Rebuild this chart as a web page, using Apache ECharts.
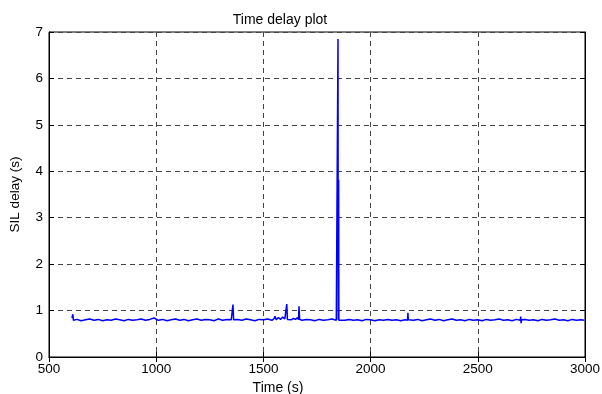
<!DOCTYPE html>
<html>
<head>
<meta charset="utf-8">
<script src="https://cdn.jsdelivr.net/npm/echarts@6/dist/echarts.min.js"></script>
<style>
html, body { margin: 0; padding: 0; background: #fff; }
#main { width: 602px; height: 394px; }
</style>
</head>
<body>
<div id="main"></div>
<script>
// time (s) and SIL delay (s)
var times = [607, 611, 614, 630, 650, 670, 690, 710, 730, 750, 770, 790, 810, 830, 850, 870, 890, 910, 930, 950,
  970, 990, 1010, 1030, 1050, 1070, 1090, 1110, 1130, 1150, 1170, 1190, 1210, 1230, 1250, 1270, 1290, 1310, 1330, 1350,
  1356, 1358, 1361, 1380, 1400, 1420, 1440, 1460, 1480, 1500, 1520, 1540, 1550, 1554, 1560, 1570, 1580, 1590, 1600, 1606,
  1609, 1612, 1620, 1630, 1640, 1650, 1660, 1664, 1666, 1669, 1680, 1700, 1720, 1740, 1760, 1780, 1800, 1820, 1840, 1846,
  1848, 1849, 1850, 1851, 1852, 1860, 1880, 1900, 1920, 1940, 1960, 1980, 2000, 2020, 2040, 2060, 2080, 2100, 2120, 2140,
  2160, 2172, 2174, 2176, 2200, 2220, 2240, 2260, 2280, 2300, 2320, 2340, 2360, 2380, 2400, 2420, 2440, 2460, 2480, 2500,
  2520, 2540, 2560, 2580, 2600, 2620, 2640, 2660, 2680, 2698, 2700, 2702, 2704, 2720, 2740, 2760, 2780, 2800, 2820, 2840,
  2860, 2880, 2900, 2920, 2940, 2960, 2980, 2998];
var delays = [0.84, 0.92, 0.79, 0.81, 0.78, 0.80, 0.82, 0.79, 0.81, 0.78, 0.80, 0.79, 0.82, 0.80, 0.78, 0.81, 0.79, 0.80, 0.82, 0.79,
  0.81, 0.84, 0.79, 0.81, 0.78, 0.80, 0.82, 0.79, 0.81, 0.78, 0.80, 0.82, 0.79, 0.81, 0.80, 0.78, 0.82, 0.79, 0.81, 0.80,
  0.79, 1.13, 0.80, 0.81, 0.79, 0.82, 0.80, 0.78, 0.81, 0.80, 0.82, 0.79, 0.83, 0.88, 0.80, 0.85, 0.81, 0.86, 0.82, 0.80,
  1.14, 0.81, 0.84, 0.80, 0.83, 0.81, 0.85, 0.80, 1.09, 0.81, 0.79, 0.81, 0.80, 0.78, 0.81, 0.79, 0.80, 0.82, 0.79, 0.80,
  6.85, 0.80, 0.80, 3.82, 0.79, 0.80, 0.79, 0.81, 0.79, 0.80, 0.78, 0.81, 0.80, 0.78, 0.80, 0.79, 0.81, 0.79, 0.80, 0.78,
  0.80, 0.79, 0.95, 0.80, 0.79, 0.81, 0.78, 0.80, 0.82, 0.79, 0.81, 0.78, 0.80, 0.82, 0.79, 0.80, 0.78, 0.81, 0.79, 0.80,
  0.78, 0.81, 0.79, 0.80, 0.82, 0.79, 0.80, 0.78, 0.81, 0.79, 0.87, 0.73, 0.80, 0.81, 0.79, 0.80, 0.78, 0.81, 0.79, 0.80,
  0.82, 0.79, 0.80, 0.78, 0.81, 0.79, 0.80, 0.79];

var xTicks = [500, 3000, 500];  // min, max, step
var yTicks = [0, 7, 1];

var font = 'Liberation Sans, Arial, sans-serif';
var points = [];
for (var i = 0; i < times.length; i++) {
  points.push([times[i], delays[i]]);
}

var myChart = echarts.init(document.getElementById('main'));
var option = {
  animation: false,
  title: [
    {
      text: 'Time delay plot',
      left: 275, top: 8, textAlign: 'center',
      textStyle: { fontFamily: font, fontSize: 14, fontWeight: 'normal', color: '#000' }
    },
    {
      text: 'Time (s)',
      left: 273, top: 376, textAlign: 'center',
      textStyle: { fontFamily: font, fontSize: 14, fontWeight: 'normal', color: '#000' }
    }
  ],
  grid: {
    left: 49, right: 17, top: 32, bottom: 37,
    outerBoundsMode: 'none',
    show: true, borderColor: '#000', borderWidth: 1
  },
  xAxis: [
    {
      type: 'value',
      min: xTicks[0], max: xTicks[1], interval: xTicks[2],
      axisLine: { lineStyle: { color: '#000', width: 1 } },
      axisTick: { inside: true, length: 5, lineStyle: { color: '#000' } },
      axisLabel: {
        fontFamily: font, fontSize: 13.5, color: '#000', margin: 5,
        formatter: function (v) { return String(v); }
      },
      splitLine: { show: true, lineStyle: { color: '#444', type: [5, 4], width: 1 } }
    },
    {
      type: 'value', position: 'top',
      min: xTicks[0], max: xTicks[1], interval: xTicks[2],
      axisLine: { lineStyle: { color: '#000' } },
      axisTick: { inside: true, length: 5, lineStyle: { color: '#000' } },
      axisLabel: { show: false },
      splitLine: { show: false }
    }
  ],
  yAxis: [
    {
      type: 'value',
      min: yTicks[0], max: yTicks[1], interval: yTicks[2],
      name: 'SIL delay (s)', nameLocation: 'middle', nameGap: 27,
      nameTextStyle: { fontFamily: font, fontSize: 13.5, color: '#000' },
      axisLine: { show: true, lineStyle: { color: '#000', width: 1 } },
      axisTick: { show: true, inside: true, length: 5, lineStyle: { color: '#000' } },
      axisLabel: { fontFamily: font, fontSize: 13.5, color: '#000', margin: 6 },
      splitLine: { show: true, lineStyle: { color: '#444', type: [5, 4], width: 1 } }
    },
    {
      type: 'value', position: 'right',
      min: yTicks[0], max: yTicks[1], interval: yTicks[2],
      axisLine: { show: true, lineStyle: { color: '#000' } },
      axisTick: { show: true, inside: true, length: 5, lineStyle: { color: '#000' } },
      axisLabel: { show: false },
      splitLine: { show: false }
    }
  ],
  series: [
    {
      type: 'line',
      data: points,
      showSymbol: false,
      lineStyle: { color: '#0000ff', width: 1.5 },
      itemStyle: { color: '#0000ff' }
    }
  ]
};
myChart.setOption(option);
</script>
</body>
</html>
